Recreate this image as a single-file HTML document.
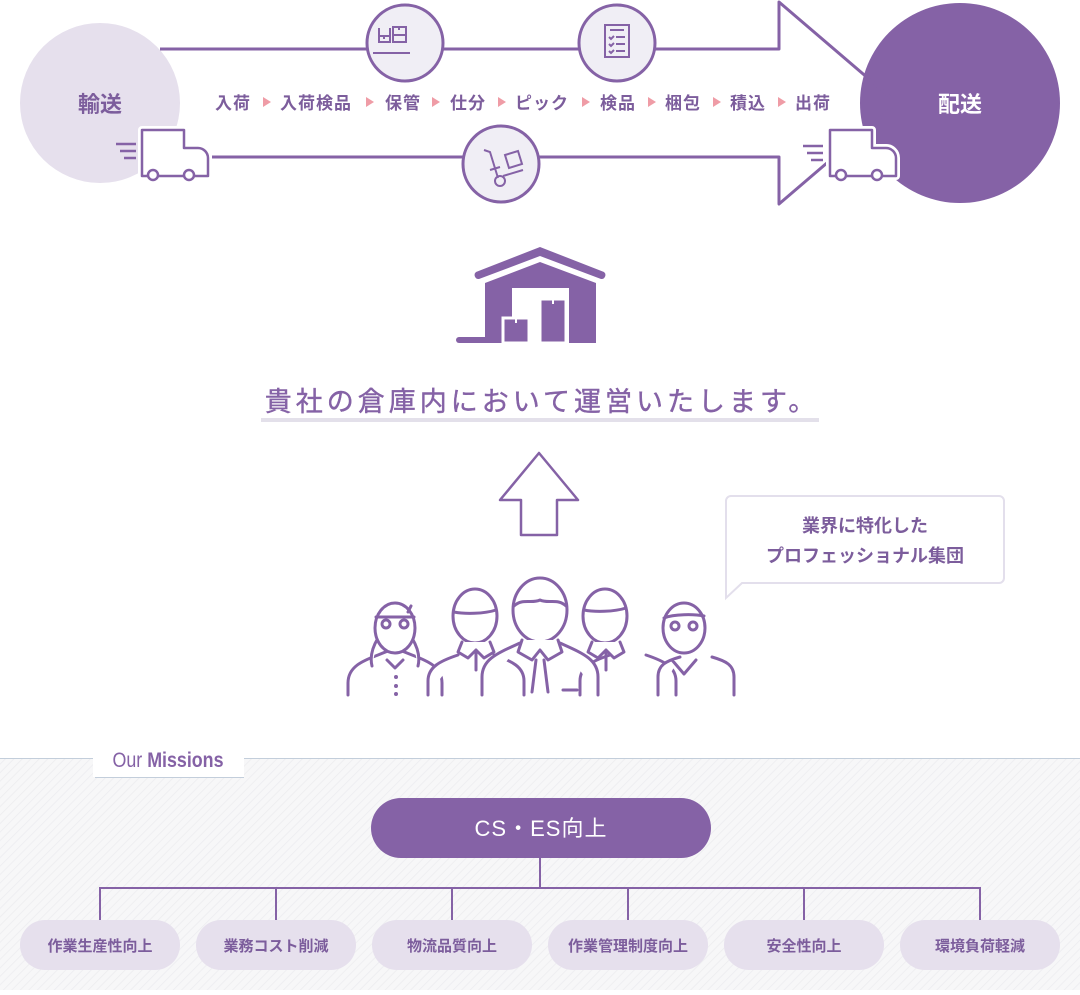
<!DOCTYPE html>
<html><head><meta charset="utf-8"><style>
body{margin:0;width:1080px;height:990px;overflow:hidden;background:#fff;font-family:"Liberation Sans","Noto Sans CJK JP",sans-serif}
svg text{font-family:"Liberation Sans","Noto Sans CJK JP",sans-serif}
</style></head><body>
<svg width="1080" height="990" viewBox="0 0 1080 990" xmlns="http://www.w3.org/2000/svg">
<defs>
<pattern id="st" width="6" height="6" patternUnits="userSpaceOnUse" patternTransform="rotate(45)">
<rect width="6" height="6" fill="#f7f7f8"/><line x1="0" y1="0" x2="0" y2="6" stroke="#ececef" stroke-width="1.5"/>
</pattern>
</defs>
<rect x="0" y="758" width="1080" height="232" fill="url(#st)"/>
<line x1="0" y1="758.5" x2="1080" y2="758.5" stroke="#c3cedb" stroke-width="1"/>
<rect x="93" y="740" width="151" height="37" fill="#fff"/>
<line x1="95" y1="777.5" x2="244" y2="777.5" stroke="#c3cedb" stroke-width="1"/>
<text x="168" y="767" text-anchor="middle" font-size="21" fill="#8562a6" transform="translate(168 0) scale(0.85 1) translate(-168 0)">Our <tspan font-weight="bold">Missions</tspan></text>

<circle cx="100" cy="103" r="80" fill="#e6e0ed"/>
<text x="100" y="112" text-anchor="middle" font-size="22" font-weight="bold" fill="#7c5d9c">輸送</text>
<circle cx="960" cy="103" r="100" fill="#8562a6"/>
<text x="960" y="112" text-anchor="middle" font-size="22" font-weight="bold" fill="#fff">配送</text>
<path d="M160 49 H779 V2 L897 103 L779 204 V157 H212" fill="none" stroke="#8562a6" stroke-width="3" stroke-linejoin="round"/>
<g stroke="#8562a6" stroke-width="3" fill="#f0eef5">
<circle cx="405" cy="43" r="38"/><circle cx="617" cy="43" r="38"/><circle cx="501" cy="164" r="38"/>
</g>
<g stroke="#8562a6" stroke-width="2" fill="none">
<path d="M373 53 h37 M379 28 v14 h11 v-14 M393 27 h13 v15 h-13z M379 36 h11 M393 35 h13 M384 36 v3 M399 27 v3"/>
<rect x="605" y="25" width="24" height="32"/>
<path d="M610 30 h14 M616 37 h9 M616 44 h9 M616 51 h9 M609 37 l2 2 3 -3 M609 44 l2 2 3 -3 M609 51 l2 2 3 -3"/>
<path d="M484 150 l6 2 8 26 M490 170 l10 -3 M505 155 l13 -4 4 13 -13 4z M503 176 l20 -6"/>
<circle cx="500" cy="181" r="5"/>
</g>
<g stroke="#fff" stroke-width="8" fill="#fff" stroke-linejoin="round">
<path d="M142 130 h42 v18 h14 a10 10 0 0 1 10 10 v18 h-66z"/>
<path d="M830 130 h42 v18 h14 a10 10 0 0 1 10 10 v18 h-66z"/>
</g>
<g stroke="#8562a6" stroke-width="2.5" fill="#fff" stroke-linejoin="round">
<path d="M142 130 h42 v18 h14 a10 10 0 0 1 10 10 v18 h-66z"/>
<circle cx="153" cy="175" r="5"/><circle cx="189" cy="175" r="5"/>
<path d="M116 144 h20 M120 151 h16 M124 158 h12"/>
<path d="M830 130 h42 v18 h14 a10 10 0 0 1 10 10 v18 h-66z"/>
<circle cx="841" cy="175" r="5"/><circle cx="877" cy="175" r="5"/>
<path d="M803 146 h20 M807 153 h16 M811 160 h12"/>
</g>
<g font-size="17" font-weight="bold" fill="#7c5d9c" letter-spacing="1">
<text x="215" y="109">入荷</text><text x="280" y="109">入荷検品</text><text x="385" y="109">保管</text><text x="450" y="109">仕分</text><text x="515" y="109">ピック</text><text x="600" y="109">検品</text><text x="665" y="109">梱包</text><text x="730" y="109">積込</text><text x="795" y="109">出荷</text>
</g>
<g fill="#ef9ca6">
<path d="M263 97 l8 5 -8 5z"/><path d="M366 97 l8 5 -8 5z"/><path d="M432 97 l8 5 -8 5z"/><path d="M498 97 l8 5 -8 5z"/><path d="M582 97 l8 5 -8 5z"/><path d="M648 97 l8 5 -8 5z"/><path d="M713 97 l8 5 -8 5z"/><path d="M778 97 l8 5 -8 5z"/>
</g>

<g fill="#8562a6">
<path d="M476 272 L540 247 L604 272 a4 4 0 0 1 -3 7 L540 256 L479 279 a4 4 0 0 1 -3 -7z"/>
<path d="M485 283 L540 262 L596 283 V343 H569 V288 H512 V343 H485z"/>
<rect x="456" y="337" width="40" height="6" rx="3"/>
<rect x="503" y="318" width="26" height="25" stroke="#fff" stroke-width="3"/>
<rect x="540" y="299" width="26" height="44" stroke="#fff" stroke-width="3"/>
</g>
<rect x="454" y="343" width="150" height="4" fill="#fff"/>
<g fill="#fff"><rect x="515" y="318" width="2" height="5"/><rect x="552" y="299" width="2" height="5"/></g>

<text x="542" y="411" text-anchor="middle" font-size="27" fill="#8562a6" letter-spacing="4" stroke="#8562a6" stroke-width="0.4">貴社の倉庫内において運営いたします。</text>
<rect x="261" y="418" width="558" height="4" fill="#e3e0ea"/>

<path d="M539 453 L578 500 H557 V535 H521 V500 H500z" fill="#fff" stroke="#8562a6" stroke-width="2.5" stroke-linejoin="round"/>

<path d="M731 496 H999 a5 5 0 0 1 5 5 V578 a5 5 0 0 1 -5 5 H742 L726 598 V501 a5 5 0 0 1 5 -5z" fill="#fff" stroke="#e3dfec" stroke-width="2"/>
<text x="865" y="532" text-anchor="middle" font-size="18" font-weight="bold" fill="#7c5d9c">業界に特化した</text>
<text x="865" y="562" text-anchor="middle" font-size="18" font-weight="bold" fill="#7c5d9c">プロフェッショナル集団</text>

<g stroke="#8562a6" stroke-width="3" fill="#fff" stroke-linecap="round" stroke-linejoin="round">
<path d="M348 695 v-12 c0-16 14-22 30-28 l10-4 M442 695 v-12 c0-16 -14-22 -30-28 l-10-4"/>
<path d="M378 638 c-6 10 -8 20 -6 28 M412 638 c6 10 8 20 6 28"/>
<ellipse cx="395" cy="628" rx="20" ry="25"/>
<path d="M376 617 h38 M408 612 l3-6"/>
<circle cx="386" cy="624" r="4" /><circle cx="404" cy="624" r="4"/>
<path d="M387 660 l8 8 8 -8"/>
<path d="M428 695 v-14 c0-14 12-20 30-26 M524 695 v-14 c0-14 -12-20 -30-26"/>
<ellipse cx="475" cy="616" rx="22" ry="27"/>
<path d="M454 612 c10 2 30 2 42 -2"/>
<path d="M462 642 l-4 10 10 6 8-8 8 8 10-6-4-10 M476 650 v20"/>
<path d="M580 695 v-14 c0-14 12-20 30-26 M676 695 v-14 c0-14 -12-20 -30-26"/>
<ellipse cx="605" cy="616" rx="22" ry="27"/>
<path d="M584 610 c10 2 30 2 42 -2"/>
<path d="M592 642 l-4 10 10 6 8-8 8 8 10-6-4-10 M606 650 v20"/>
<path d="M658 695 v-18 c0-12 8-16 22-20 M734 695 v-18 c0-12 -8-16 -22-20"/>
<ellipse cx="684" cy="628" rx="21" ry="25"/>
<path d="M664 618 c10 -4 30 -4 40 -2"/>
<circle cx="675" cy="626" r="4"/><circle cx="693" cy="626" r="4"/>
<path d="M672 660 l12 14 12 -14"/>
<path d="M482 695 v-18 c0-18 16-24 38-34 M598 695 v-18 c0-18 -16-24 -38-34"/>
<ellipse cx="540" cy="610" rx="27" ry="32"/>
<path d="M514 606 c8 -8 18 -2 26 -6 8 4 18 -2 26 6"/>
<path d="M522 640 l-4 12 14 8 8-10 8 10 14-8-4-12"/>
<path d="M536 660 l-4 32 M544 660 l4 32"/>
<path d="M563 690 h14"/>
</g>
<g fill="#8562a6"><circle cx="396" cy="677" r="2"/><circle cx="396" cy="686" r="2"/><circle cx="396" cy="694" r="2"/></g>

<rect x="371" y="798" width="340" height="60" rx="30" fill="#8562a6"/>
<text x="541" y="836" text-anchor="middle" font-size="22" fill="#fff" letter-spacing="1">CS・ES向上</text>
<path d="M540 858 V888 M100 920 V888 H980 V920 M276 888 V920 M452 888 V920 M628 888 V920 M804 888 V920" stroke="#8562a6" stroke-width="2" fill="none"/>
<g fill="#e6e0ed">
<rect x="20" y="920" width="160" height="50" rx="25"/><rect x="196" y="920" width="160" height="50" rx="25"/><rect x="372" y="920" width="160" height="50" rx="25"/><rect x="548" y="920" width="160" height="50" rx="25"/><rect x="724" y="920" width="160" height="50" rx="25"/><rect x="900" y="920" width="160" height="50" rx="25"/>
</g>
<g font-size="15" font-weight="bold" fill="#7c5d9c" text-anchor="middle">
<text x="100" y="951">作業生産性向上</text><text x="276" y="951">業務コスト削減</text><text x="452" y="951">物流品質向上</text><text x="628" y="951">作業管理制度向上</text><text x="804" y="951">安全性向上</text><text x="980" y="951">環境負荷軽減</text>
</g>
</svg>
</body></html>
